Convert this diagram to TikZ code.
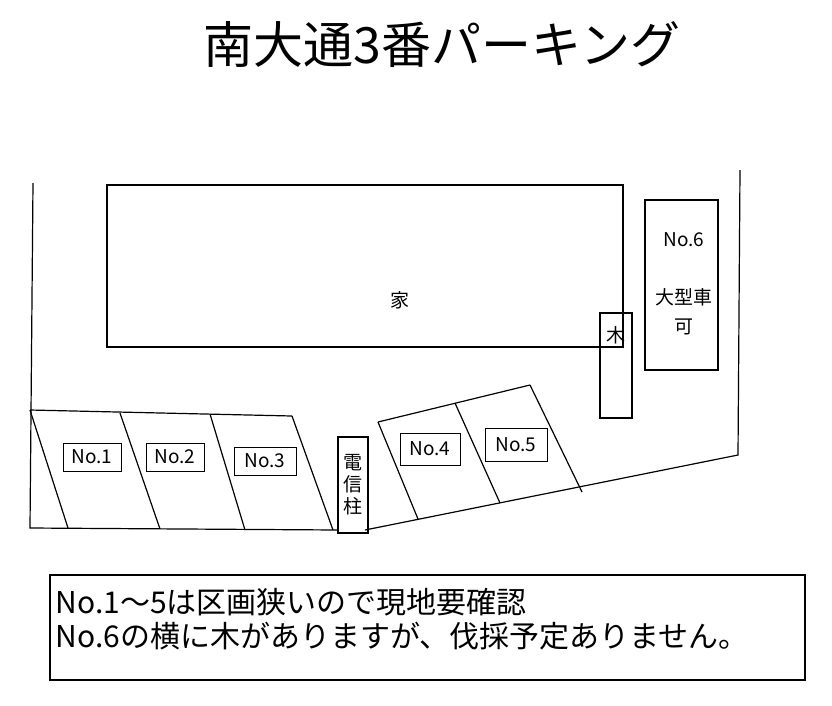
\documentclass[tikz,border=0pt]{standalone}
\usepackage{fontspec}
\setmainfont{Noto Sans CJK JP}
\tikzset{
  wall/.style={line width=1.2pt},
  plate/.style={draw, line width=0.8pt, inner sep=2pt},
  lbl/.style={font=\fontsize{19}{22}\selectfont}
}
\begin{document}
\begin{tikzpicture}[x=1pt, y=-1pt]
\useasboundingbox (0,0) rectangle (832,705);

% Title
\node (title) at (442,45) {\fontsize{50}{54}\selectfont 南大通3番パーキング};

% Site boundary
\draw[wall] (33,183) -- (30,528) -- (338,530);
\draw[wall] (740,170) -- (738,455) -- (365,530);

% House
\draw[wall, line width=2pt] (107,185) rectangle (623,347);
\node[lbl] (house) at (400,300) {家};

% Tree
\draw[wall] (600,313) rectangle (632,418);
\node[lbl] (tree) at (616,335) {木};

% No.6
\draw[wall, line width=2pt] (645,200) rectangle (718,370);
\node[lbl] (p6) at (684,240) {No.6};
\node[lbl] (big) at (684,297) {大型車};
\node[lbl] (ok) at (684,327) {可};

% Stalls No.1 - No.3
\draw[wall] (30,410) -- (292,416);
\draw[wall] (30,410) -- (68,528);
\draw[wall] (120,413) -- (160,529);
\draw[wall] (210,414) -- (245,530);
\draw[wall] (292,416) -- (333,530);
\node[plate, lbl, minimum width=58pt, minimum height=28pt] (p1) at (92,457) {No.1};
\node[plate, lbl, minimum width=58pt, minimum height=28pt] (p2) at (175,457) {No.2};
\node[plate, lbl, minimum width=62pt, minimum height=28pt] (p3) at (265,461) {No.3};

% Utility pole
\draw[wall] (338,437) rectangle (368,533);
\node[lbl, align=center] (pole) at (353,485) {電\\信\\柱};

% Stalls No.4 - No.5
\draw[wall] (378,422) -- (530,385);
\draw[wall] (378,422) -- (418,519);
\draw[wall] (455,403) -- (500,503);
\draw[wall] (530,385) -- (582,492);
\node[plate, lbl, minimum width=60pt, minimum height=32pt] (p4) at (430,449) {No.4};
\node[plate, lbl, minimum width=62pt, minimum height=33pt] (p5) at (516,445) {No.5};

% Note
\draw[wall] (50,575) rectangle (805,680);
\node[anchor=west, align=left, font=\fontsize{30}{34}\selectfont] (note) at (52,619)
  {No.1～5は区画狭いので現地要確認\\No.6の横に木がありますが、伐採予定ありません。};
\end{tikzpicture}
\end{document}
